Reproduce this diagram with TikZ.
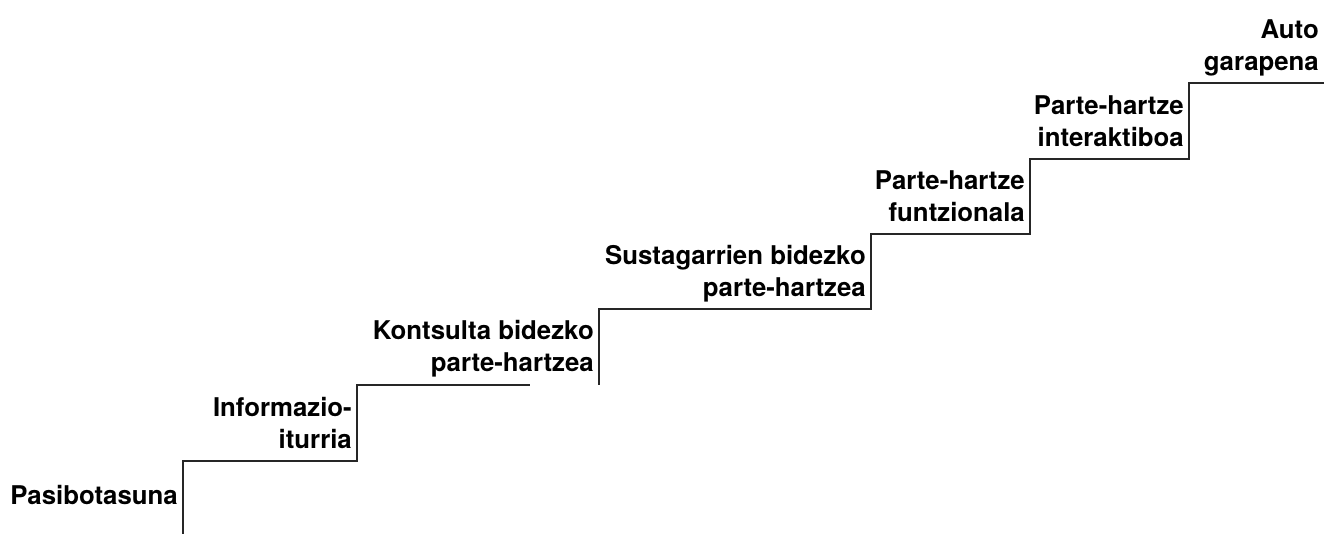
\documentclass[tikz,border=0pt]{standalone}
\usepackage{fontspec}
\setmainfont{TeX Gyre Heros}
\usepackage{tikz}
\usetikzlibrary{positioning}
\usetikzlibrary{calc}
\tikzstyle{stair} = [draw,line width=1.3pt,black!85]
\tikzstyle{steplabel} = [anchor=south east,inner sep=0pt,align=right,text depth=0pt,font=\fontsize{25.8}{32}\selectfont\bfseries]

\begin{document}
\begin{tikzpicture}[x=1pt,y=1pt]
    \useasboundingbox (0,0) rectangle (1324,534);
    % First we place the corners of the stairs
    \foreach \x/\y/\name in {183/0/s0, 183/73/s1, 357/73/s2, 357/149/s3, 530/149/g1, 599/149/s4, 599/225/s5, 871/225/s6, 871/300/s7, 1030/300/s8, 1030/375/s9, 1189/375/s10, 1189/451/s11, 1324/451/s12}
        \coordinate (\name) at (\x,\y);

    % Then the stairs themselves
    \path[stair] (s0) -- (s1) -- (s2) -- (s3) -- (g1);
    \path[stair] (s4) -- (s5) -- (s6) -- (s7) -- (s8) -- (s9) -- (s10) -- (s11) -- (s12);

    % Labels on every step
    \foreach \corner/\dy/\name/\label in {{s0/29/pasib/Pasibotasuna}, {s2/12/info/Informazio-\\iturria}, {s4/13/kons/Kontsulta bidezko\\parte-hartzea}, {s6/12/sust/Sustagarrien bidezko\\parte-hartzea}, {s8/12/funtz/Parte-hartze\\funtzionala}, {s10/12/inter/Parte-hartze\\interaktiboa}, {s12/12/auto/Auto\\garapena}}
        \node[steplabel] (\name) at ($(\corner)+(-5,\dy)$) {\label};
\end{tikzpicture}
\end{document}
